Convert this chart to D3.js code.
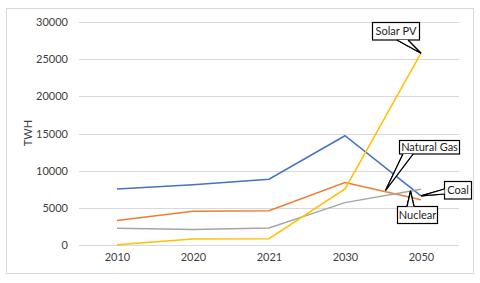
<!DOCTYPE html>
<html><head><meta charset="utf-8">
<script src="https://cdn.jsdelivr.net/npm/d3@7"></script>
<style>body{margin:0;background:#fff}svg{display:block}text{font-family:Lato,"Open Sans",sans-serif;fill:#404040}</style>
</head><body>
<script>
const categories = ["2010","2020","2021","2030","2050"];
const coal = [7550, 8100, 8850, 14700, 6600];
const naturalGas = [3300, 4550, 4600, 8400, 6100];
const nuclear = [2250, 2100, 2300, 5700, 7500];
const solarPV = [40, 800, 850, 7550, 25800];
const yTicks = [0, 5000, 10000, 15000, 20000, 25000, 30000];
const seriesNames = ["Coal", "Natural Gas", "Nuclear", "Solar PV"];
const colors = ["#4472C4", "#ED7D31", "#A5A5A5", "#FFC000"];

const W = 480, H = 283;
const svg = d3.select("body").append("svg").attr("width", W).attr("height", H);
svg.append("rect").attr("x", 6.5).attr("y", 8.5).attr("width", 467).attr("height", 265)
  .attr("fill", "#fff").attr("stroke", "#d9d9d9");

const x = d3.scalePoint().domain(categories).range([79, 459]).padding(0.5);
const y = d3.scaleLinear().domain([0, 30000]).range([245, 22]);

// gridlines
svg.append("g").selectAll("line").data(yTicks).join("line")
  .attr("x1", 79).attr("x2", 459)
  .attr("y1", d => Math.round(y(d)) + 0.5).attr("y2", d => Math.round(y(d)) + 0.5)
  .attr("stroke", "#d9d9d9");

const yAxis = svg.append("g").attr("transform", "translate(79,0)")
  .call(d3.axisLeft(y).tickValues(yTicks).tickSize(0).tickPadding(11).tickFormat(d3.format("d")));
yAxis.select(".domain").remove();
yAxis.selectAll("text").style("font-size", "11px").attr("fill", "#404040").style("font-family", "Lato,sans-serif");

const xAxis = svg.append("g").attr("transform", "translate(0,245)")
  .call(d3.axisBottom(x).tickSize(0).tickPadding(8));
xAxis.select(".domain").remove();
xAxis.selectAll("text").style("font-size", "11px").attr("fill", "#404040").style("font-family", "Lato,sans-serif");

svg.append("text").attr("transform", "translate(32,133) rotate(-90)")
  .attr("text-anchor", "middle").style("font-size", "11px").text("TWH");

const data = [coal, naturalGas, nuclear, solarPV];
const line = d3.line().x((d, i) => x(categories[i])).y(d => y(d));
data.forEach((s, k) => {
  svg.append("path").datum(s).attr("d", line).attr("fill", "none")
    .attr("stroke", colors[k]).attr("stroke-width", 1.5);
});

// callouts
function callout(box, wedge, label) {
  const g = svg.append("g");
  g.append("path").attr("d", `M${wedge[0][0]},${wedge[0][1]}L${wedge[2][0]},${wedge[2][1]}L${wedge[1][0]},${wedge[1][1]}Z`)
    .attr("fill", "#fff").attr("stroke", "#000").attr("stroke-width", 1.2);
  g.append("rect").attr("x", box[0]).attr("y", box[1]).attr("width", box[2]).attr("height", box[3])
    .attr("fill", "#fff").attr("stroke", "#000").attr("stroke-width", 1.2);
  g.append("path").attr("d", `M${wedge[0][0]},${wedge[0][1]}L${wedge[2][0]},${wedge[2][1]}L${wedge[1][0]},${wedge[1][1]}`)
    .attr("fill", "#fff").attr("stroke", "#000").attr("stroke-width", 1.2);
  g.append("text").attr("x", box[0] + box[2] / 2).attr("y", box[1] + box[3] / 2 + 4)
    .attr("text-anchor", "middle").style("font-size", "11px").style("fill", "#222").text(label);
}
const end = categories.length - 1;
const tipSolar = [x(categories[end]), y(solarPV[end])];
const tipCoal = [x(categories[end]), y(coal[end])];
callout([372.5, 22.5, 47, 17.5], [[397, 40], [408, 40], tipSolar], seriesNames[3]);
callout([399.5, 140.5, 60, 13.5], [[403, 154], [413, 154], [385.5, 190.5]], seriesNames[1]);
callout([444.5, 181.5, 27, 17.5], [[444.5, 189], [444.5, 194], tipCoal], seriesNames[0]);
callout([397.5, 206.5, 40, 17], [[407, 206.5], [414, 206.5], [410.5, 191]], seriesNames[2]);
</script>
</body></html>
